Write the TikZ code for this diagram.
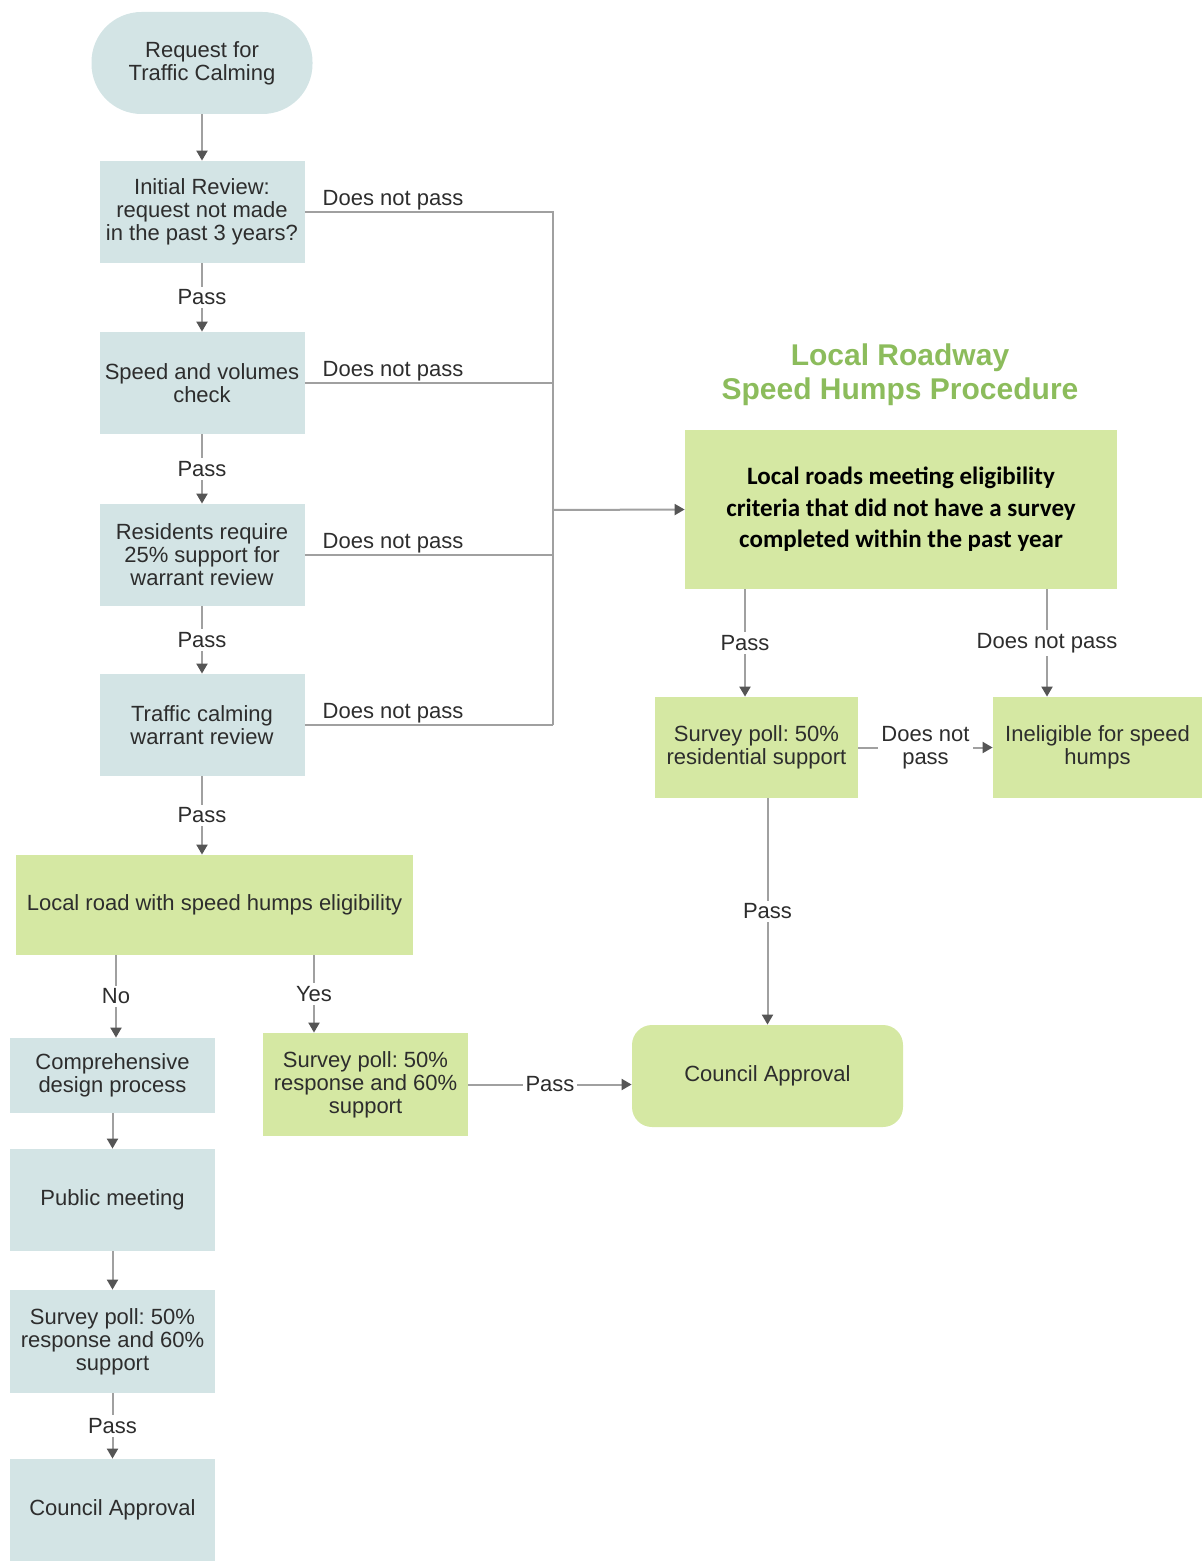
\documentclass[tikz,border=0pt]{standalone}
\usepackage{fontspec}
\setmainfont{Liberation Sans}
\newfontfamily\calibri{Carlito}
\usetikzlibrary{arrows.meta}
\definecolor{boxblue}{RGB}{211,228,229}
\definecolor{boxgreen}{RGB}{213,232,163}
\definecolor{titlegreen}{RGB}{140,188,92}
\definecolor{linegray}{RGB}{160,160,160}
\definecolor{tipgray}{RGB}{85,85,85}
\definecolor{textgray}{RGB}{45,45,45}
\newcommand{\mainsize}{\fontsize{11}{11.5}\selectfont}
\frenchspacing

\begin{document}
\begin{tikzpicture}[x=0.5pt,y=-0.5pt,
        every node/.style={text=textgray,font=\mainsize},
        bluebox/.style={fill=boxblue,align=center,inner sep=0pt,minimum width=102.5pt,minimum height=51pt},
        greenbox/.style={bluebox,fill=boxgreen},
        ln/.style={draw=linegray,line width=1pt},
        arr/.style={ln,-{Triangle[length=5pt,width=5.5pt,color=tipgray]}},
        lbl/.style={fill=white,inner sep=1.5pt},
        dnp/.style={above,pos=0.355,inner sep=0.5pt}]
            \useasboundingbox (0,0) rectangle (1202,1562);
            \node[bluebox,minimum width=110.5pt,rounded corners=25pt] at (202,63) (req) {Request for\\Traffic Calming};
            \node[bluebox] at (202,212) (init) {Initial Review:\\request not made\\in the past 3 years?};
            \node[bluebox] at (202,383) (speed) {Speed and volumes\\check};
            \node[bluebox] at (202,555) (resid) {Residents require\\25\% support for\\warrant review};
            \node[bluebox] at (202,725) (tcal) {Traffic calming\\warrant review};
            \node[greenbox,minimum width=198.5pt,minimum height=50pt] at (214.5,905) (lrse) {Local road with speed humps eligibility};
            \node[bluebox,minimum height=37.5pt] at (112.5,1075.5) (comp) {Comprehensive\\design process};
            \node[bluebox] at (112.5,1200) (pubm) {Public meeting};
            \node[bluebox,minimum height=51.5pt] at (112.5,1341.5) (survl) {Survey poll: 50\%\\response and 60\%\\support};
            \node[bluebox] at (112.5,1510) (councl) {Council Approval};
            \node[greenbox,minimum height=51.5pt] at (365.5,1084.5) (survm) {Survey poll: 50\%\\response and 60\%\\support};
            \node[greenbox,minimum width=135.5pt,rounded corners=10pt] at (767.5,1076) (councg) {Council Approval};
            \node[greenbox,minimum width=216pt,minimum height=79.5pt,font=\calibri\bfseries\fontsize{12.5}{15.75}\selectfont,text=black] at (901,509.5) (elig) {Local roads meeting eligibility\\criteria that did not have a survey\\completed within the past year};
            \node[greenbox,minimum width=101.5pt,minimum height=50.5pt] at (756.5,747.5) (surv5) {Survey poll: 50\%\\residential support};
            \node[greenbox,minimum width=104.5pt,minimum height=50.5pt] at (1097.5,747.5) (inel) {Ineligible for speed\\humps};
            \node[align=center,text=titlegreen,font=\bfseries\fontsize{15}{17}\selectfont] at (900,375) (title) {Local Roadway\\Speed Humps Procedure};
            \coordinate (jt) at (553,211);
            \coordinate (jb) at (553,725);
            \coordinate (jm) at (553,510);
            \coordinate (nx) at (116,0);
            \coordinate (yx) at (314,0);
            \coordinate (px) at (745,0);
            \coordinate (dx) at (1047,0);
            \draw[arr] (req) -- (init);
            \draw[arr] (init) -- node[lbl] {Pass} (speed);
            \draw[arr] (speed) -- node[lbl] {Pass} (resid);
            \draw[arr] (resid) -- node[lbl] {Pass} (tcal);
            \draw[arr] (tcal) -- node[lbl] {Pass} (lrse.north -| tcal);
            \draw[ln] (init.east) -- node[dnp] {Does not pass} (init.east -| jt);
            \draw[ln] (speed.east) -- node[dnp] {Does not pass} (speed.east -| jt);
            \draw[ln] (resid.east) -- node[dnp] {Does not pass} (resid.east -| jt);
            \draw[ln] (tcal.east) -- node[dnp] {Does not pass} (tcal.east -| jt);
            \draw[ln] (jt) -- (jb);
            \draw[arr] (jm) -- (elig.west);
            \draw[arr] (lrse.south -| nx) -- node[lbl] {No} (comp.north -| nx);
            \draw[arr] (lrse.south -| yx) -- node[lbl] {Yes} (survm.north -| yx);
            \draw[arr] (comp) -- (pubm);
            \draw[arr] (pubm) -- (survl);
            \draw[arr] (survl) -- node[lbl] {Pass} (councl);
            \draw[arr] (survm.east) -- node[lbl] {Pass} (survm.east -| councg.west);
            \draw[arr] (elig.south -| px) -- node[lbl] {Pass} (surv5.north -| px);
            \draw[arr] (elig.south -| dx) -- node[lbl] {Does not pass} (inel.north -| dx);
            \draw[arr] (surv5) -- node[lbl,align=center] {Does not\\pass} (inel);
            \draw[arr] (surv5.south -| councg) -- node[lbl] {Pass} (councg);
        \end{tikzpicture}
\end{document}
